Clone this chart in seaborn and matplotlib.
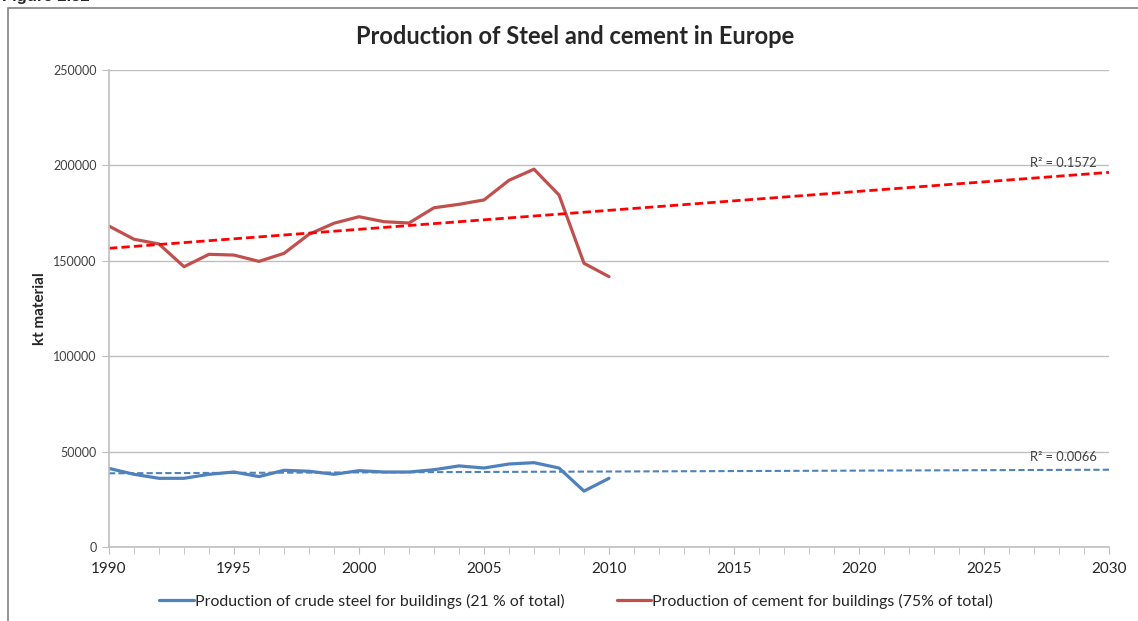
import numpy as np
import pandas as pd
import matplotlib
matplotlib.use("Agg")
import matplotlib.pyplot as plt
from matplotlib.patches import Rectangle
from matplotlib.ticker import MultipleLocator
import seaborn as sns

# -- Data (kt material) --
years = list(range(1990, 2011))
steel = [41200, 38100, 36000, 36000, 38100, 39300, 36900, 40200, 39700, 38100, 40000,
         39300, 39300, 40500, 42500, 41400, 43500, 44200, 41400, 29300, 36000]
cement = [168200, 161300, 158800, 146900, 153400, 153000, 149700, 153900, 163900, 169700, 173100,
          170500, 169800, 177800, 179600, 181900, 192200, 198000, 184500, 148700, 141700]
trend_years = [1990, 2030]
steel_label = "Production of crude steel for buildings (21 % of total)"
cement_label = "Production of cement for buildings (75% of total)"
r2_steel = "R² = 0.0066"
r2_cement = "R² = 0.1572"

df = pd.DataFrame({"year": years, "steel": steel, "cement": cement})

# -- Style --
sns.set_style("white")
plt.rcParams["font.family"] = ["Lato", "DejaVu Sans"]

BLUE = "#4F81BD"
RED = "#C0504D"

fig = plt.figure(figsize=(11.38, 6.21), dpi=100)
ax = fig.add_axes([109 / 1138, 1 - 547 / 621, 1000 / 1138, 477 / 621])

sns.lineplot(data=df, x="year", y="steel", color=BLUE, lw=2.3, ax=ax, label=steel_label)
sns.lineplot(data=df, x="year", y="cement", color=RED, lw=2.3, ax=ax, label=cement_label)

# -- Linear trendlines --
tx = np.array(trend_years)
p_s = np.polyfit(df["year"], df["steel"], 1)
p_c = np.polyfit(df["year"], df["cement"], 1)
ax.plot(tx, np.polyval(p_s, tx), ls=(0, (3, 1.5)), color=BLUE, lw=1.5)
ax.plot(tx, np.polyval(p_c, tx), ls=(0, (3, 1.5)), color="#FF0000", lw=2)

ax.text(2029.5, 201500, r2_cement, ha="right", va="center", fontsize=9.3, color="#404040")
ax.text(2029.5, 47000, r2_steel, ha="right", va="center", fontsize=9.3, color="#404040")

# -- Axes --
ax.set_xlim(1990, 2030)
ax.set_ylim(0, 250000)
ax.xaxis.set_major_locator(MultipleLocator(5))
ax.xaxis.set_minor_locator(MultipleLocator(1))
ax.yaxis.set_major_locator(MultipleLocator(50000))
ax.grid(axis="y", color="#BFBFBF", lw=1)
ax.set_axisbelow(True)
for side in ["top", "right"]:
    ax.spines[side].set_visible(False)
for side in ["left", "bottom"]:
    ax.spines[side].set_color("#BFBFBF")
    ax.spines[side].set_linewidth(1.2)
ax.tick_params(axis="x", which="both", bottom=True, direction="out", length=5, color="#BFBFBF",
               labelsize=11, pad=6)
ax.tick_params(axis="y", left=True, direction="out", length=5, color="#BFBFBF",
               labelsize=9, labelcolor="#404040", pad=4)
ax.set_xlabel("")
ax.set_ylabel("kt material", fontsize=11, fontweight="bold", labelpad=4)

ax.legend(loc="upper center", bbox_to_anchor=(0.467, -0.068), ncol=2, frameon=False,
          fontsize=11.4, handlelength=2.2, handletextpad=0.05, columnspacing=3.3)

# -- Title, frame, figure caption --
fig.text(575 / 1138, 1 - 37 / 621, "Production of Steel and cement in Europe",
         ha="center", va="center", fontsize=17, fontweight="bold")
fig.text(2 / 1138, 1.005, "Figure 2.32", ha="left", va="center",
         fontsize=12, fontweight="bold", family=["Liberation Sans", "DejaVu Sans"])
fig.add_artist(Rectangle((8 / 1138, -0.1), 1.2, 1.1 - 8 / 621, transform=fig.transFigure,
                         fill=False, ec="#808080", lw=1.2))

fig.savefig("out.png", dpi=100)
